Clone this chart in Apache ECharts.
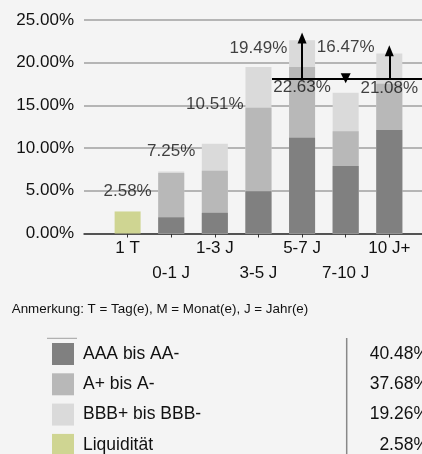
<!DOCTYPE html>
<html>
<head>
<meta charset="utf-8">
<script src="https://cdn.jsdelivr.net/npm/echarts@6/dist/echarts.min.js"></script>
<style>
html,body{margin:0;padding:0;background:#f4f4f4;}
#c{width:422px;height:454px;}
</style>
</head>
<body>
<div id="c"></div>
<script>
// ---- data ----
var categories = ['1 T', '0-1 J', '1-3 J', '3-5 J', '5-7 J', '7-10 J', '10 J+'];
var aaa   = [0, 1.89, 2.42, 4.96, 11.20, 7.89, 12.12];
var aPlus = [0, 5.20, 4.92, 9.77, 8.30, 4.07, 5.42];
var bbb   = [0, 0.16, 3.17, 4.76, 3.13, 4.51, 3.54];
var liq   = [2.58, 0, 0, 0, 0, 0, 0];
var legendNames  = ['AAA bis AA-', 'A+ bis A-', 'BBB+ bis BBB-', 'Liquidität'];
var legendShares = ['40.48%', '37.68%', '19.26%', '2.58%'];
var yTicks = [0, 5, 10, 15, 20, 25];
var refLevel = 18.17;          // horizontal reference line
var arrowCats = [5, 7];        // arrows up at these positions
var arrowTops = [22.9, 21.4];
var dropCat = 6;               // downward marker
var note = 'Anmerkung: T = Tag(e), M = Monat(e), J = Jahr(e)';

// ---- layout / style ----
var labelOffsets = [-20, -20, -39, -19, 47, -46, 35];
var FONT = '"Liberation Sans", Arial, sans-serif';
var colors = ['#808080', '#b8b8b8', '#dadada', '#cfd592'];

var xs = categories.map(function (c, i) { return i + 1; });
function pairs(arr) { return arr.map(function (v, i) { return [xs[i], v]; }); }
// cumulative tops (segments drawn as overlapping bars from zero)
var cumAAA = aaa.slice();
var cumA = aaa.map(function (v, i) { return v + aPlus[i]; });
var cumB = cumA.map(function (v, i) { return v + bbb[i]; });
var totals = cumB.map(function (v, i) { return v + liq[i]; });

var chart = echarts.init(document.getElementById('c'), null, {renderer: 'canvas'});

function barSeries(name, arr, color, z) {
  return {
    name: name, type: 'bar', barWidth: 26, barGap: '-100%', z: z,
    data: pairs(arr), itemStyle: {color: color}, silent: true
  };
}

var option = {
  backgroundColor: '#f4f4f4',
  animation: false,
  textStyle: {fontFamily: FONT},
  grid: {left: 84, right: 0, top: 20, bottom: 220.5},
  xAxis: {
    type: 'value', min: 0, max: 7.75, interval: 1,
    splitLine: {show: false},
    axisLine: {show: true, lineStyle: {color: '#333', width: 1.5}},
    axisTick: {show: true, length: 4, lineStyle: {color: '#333', width: 1}},
    axisLabel: {
      margin: 2, fontSize: 17, color: '#111', fontFamily: FONT, lineHeight: 25,
      showMaxLabel: false, showMinLabel: false,
      formatter: function (v) {
        if (Math.abs(v - Math.round(v)) > 1e-6) return '';
        var i = Math.round(v) - 1;
        if (i < 0 || i >= categories.length) return '';
        return (i % 2 === 0) ? categories[i] : '\n' + categories[i];
      }
    }
  },
  yAxis: {
    type: 'value', min: yTicks[0], max: yTicks[yTicks.length - 1], interval: 5,
    axisLine: {show: false}, axisTick: {show: false},
    splitLine: {lineStyle: {color: '#a0a0a0', width: 1.5}},
    axisLabel: {
      margin: 10, fontSize: 17, color: '#111', fontFamily: FONT,
      formatter: function (v) { return v.toFixed(2) + '%'; }
    }
  },
  legend: {
    orient: 'vertical', left: 52, top: 343, height: 140, padding: 0,
    itemWidth: 22, itemHeight: 22, itemGap: 8.3, icon: 'rect',
    selectedMode: false,
    data: legendNames,
    formatter: function (name) {
      var i = legendNames.indexOf(name);
      return '{n|' + name + '}{v|' + legendShares[i] + '}';
    },
    textStyle: {
      fontFamily: FONT, fontSize: 17.5, color: '#111', lineHeight: 20,
      rich: {
        n: {width: 286, padding: [0, 0, 0, 4], fontSize: 17.5, lineHeight: 20, color: '#111', fontFamily: FONT},
        v: {width: 60, align: 'right', fontSize: 17.5, lineHeight: 20, color: '#111', fontFamily: FONT}
      }
    }
  },
  series: [
    barSeries(legendNames[2], cumB, colors[2], 2),
    barSeries(legendNames[1], cumA, colors[1], 3),
    barSeries(legendNames[0], cumAAA, colors[0], 4),
    barSeries(legendNames[3], liq, colors[3], 4),
    {
      name: 'totals', type: 'scatter', symbolSize: 0, z: 6, silent: true,
      data: totals.map(function (t, i) {
        return {
          value: [xs[i], t],
          label: {offset: [0, labelOffsets[i]]}
        };
      }),
      label: {
        show: true, position: 'inside', fontSize: 17, color: '#111', fontFamily: FONT,
        formatter: function (p) { return p.value[1].toFixed(2) + '%'; }
      },
      markLine: {
        silent: true, animation: false,
        symbol: ['none', 'none'],
        label: {show: false},
        lineStyle: {color: '#000', width: 2, type: 'solid'},
        emphasis: {disabled: true},
        data: [
          [{coord: [4.31, refLevel]}, {coord: [7.75, refLevel]}],
          [{coord: [arrowCats[0], refLevel], symbol: 'none'},
           {coord: [arrowCats[0], arrowTops[0]], symbol: 'triangle', symbolSize: [9, 11]}],
          [{coord: [arrowCats[1], refLevel], symbol: 'none'},
           {coord: [arrowCats[1], arrowTops[1]], symbol: 'triangle', symbolSize: [9, 11]}]
        ]
      },
      markPoint: {
        silent: true, animation: false,
        symbol: 'triangle', symbolRotate: 180, symbolSize: [10, 10],
        itemStyle: {color: '#000'},
        label: {show: false},
        data: [{coord: [dropCat, refLevel]}]
      }
    }
  ],
  graphic: [
    {type: 'text', left: 11.7, top: 302.5, style: {text: note, fontSize: 13.4, fill: '#111', fontFamily: FONT}},
    {type: 'line', shape: {x1: 47, y1: 338.3, x2: 77, y2: 338.3}, style: {stroke: '#a0a0a0', lineWidth: 1}},
    {type: 'line', shape: {x1: 346.7, y1: 338, x2: 346.7, y2: 454}, style: {stroke: '#888', lineWidth: 1.5}}
  ]
};
chart.setOption(option);
</script>
</body>
</html>
